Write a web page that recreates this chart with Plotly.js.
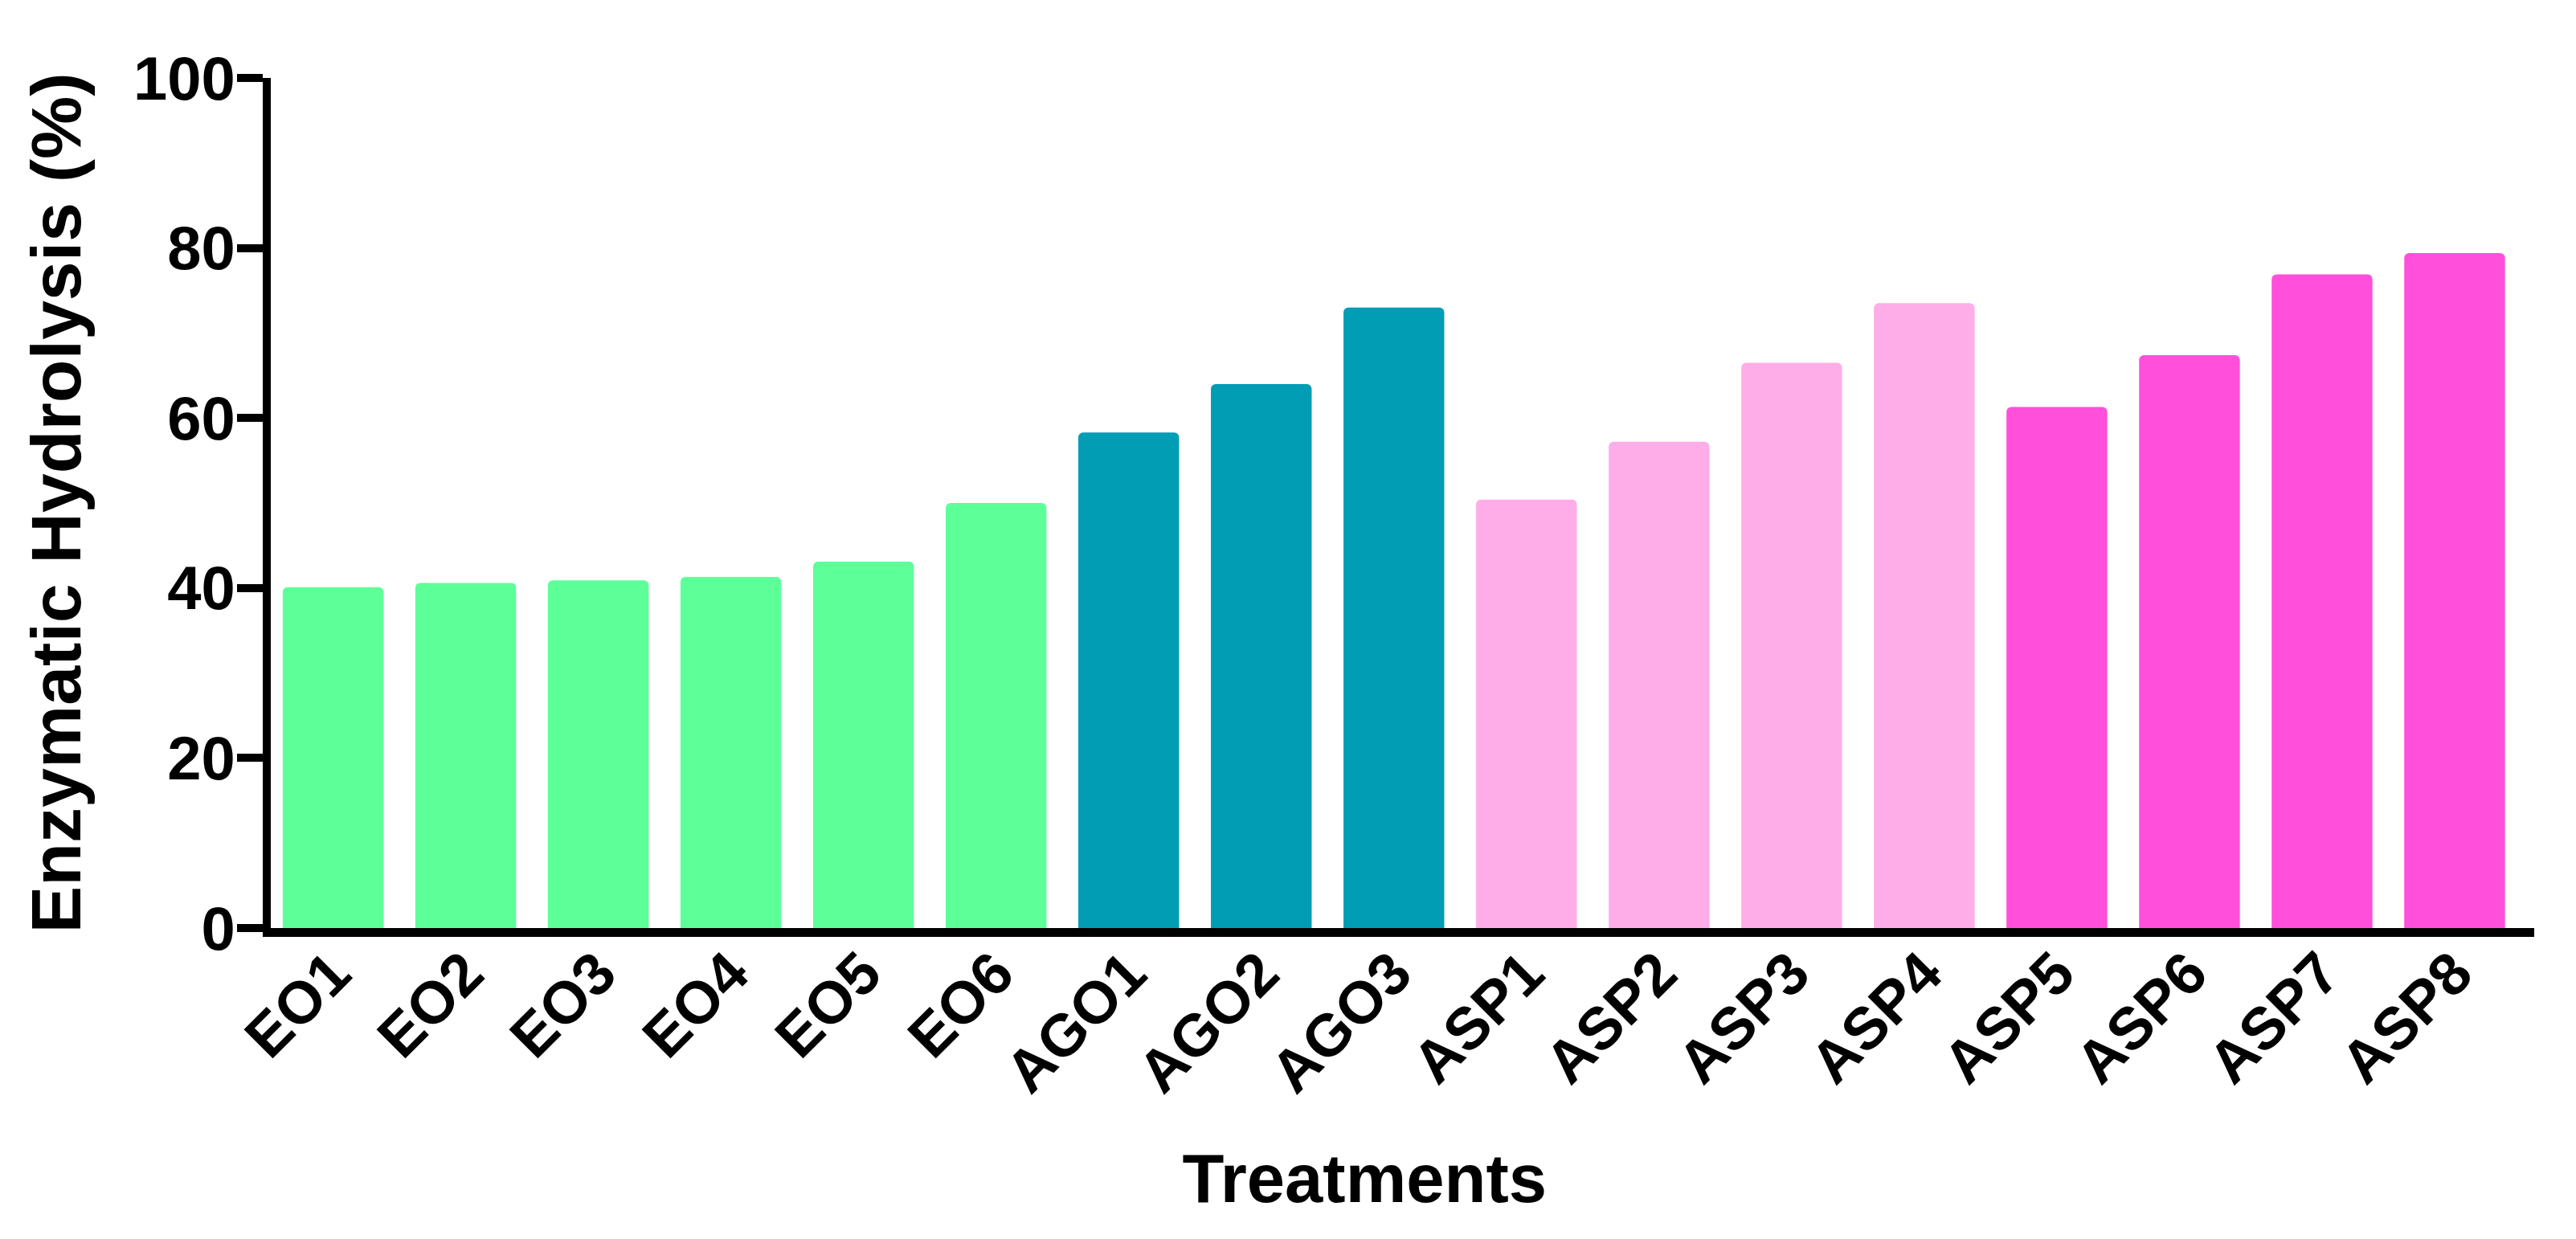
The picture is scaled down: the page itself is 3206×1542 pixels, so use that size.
<!DOCTYPE html>
<html>
<head>
<meta charset="utf-8">
<script src="https://cdn.plot.ly/plotly-3.0.1.min.js"></script>
<style>
  html, body { margin: 0; padding: 0; background: #ffffff; }
  #chart { width: 3206px; height: 1542px; }
</style>
</head>
<body>
<div id="chart"></div>
<script>
// ---- Data ----
const categories = ["EO1", "EO2", "EO3", "EO4", "EO5", "EO6",
                    "AGO1", "AGO2", "AGO3",
                    "ASP1", "ASP2", "ASP3", "ASP4",
                    "ASP5", "ASP6", "ASP7", "ASP8"];
const hydrolysis = [40.1, 40.6, 40.9, 41.3, 43.1, 50.0,
                    58.3, 64.0, 73.0,
                    50.4, 57.2, 66.5, 73.5,
                    61.3, 67.4, 76.9, 79.4];
const groups = ["EO", "EO", "EO", "EO", "EO", "EO",
                "AGO", "AGO", "AGO",
                "ASP-a", "ASP-a", "ASP-a", "ASP-a",
                "ASP-b", "ASP-b", "ASP-b", "ASP-b"];
const yTickValues = [0, 20, 40, 60, 80, 100];

// ---- Styling ----
const groupColors = {
  "EO": "#5DFF99",
  "AGO": "#009DB5",
  "ASP-a": "#FFADE9",
  "ASP-b": "#FF4FDB"
};
const barColors = groups.map(g => groupColors[g]);
const FONT = "Liberation Sans, Arial, Helvetica, sans-serif";

const trace = {
  type: "bar",
  x: categories,
  y: hydrolysis,
  width: 0.76,
  marker: { color: barColors, line: { width: 0 }, cornerradius: 6 },
  hoverinfo: "x+y"
};

const layout = {
  width: 3206,
  height: 1542,
  paper_bgcolor: "#ffffff",
  plot_bgcolor: "#ffffff",
  showlegend: false,
  margin: { l: 337, r: 52, t: 97, b: 387, pad: 0 },
  font: { family: FONT, color: "#000000" },
  xaxis: {
    type: "category",
    range: [-0.47, 16.6],
    showline: true,
    linecolor: "#000000",
    linewidth: 11,
    ticks: "",
    showgrid: false,
    zeroline: false,
    tickangle: -45,
    ticklabelstandoff: -28,
    tickfont: { family: FONT, size: 74, color: "#000000", weight: "bold" },
    title: {
      text: "<b>Treatments</b>&nbsp;&nbsp;&nbsp;&nbsp;",
      font: { family: FONT, size: 85, color: "#000000" },
      standoff: 66
    },
    fixedrange: true
  },
  yaxis: {
    range: [0, 100],
    tickvals: yTickValues,
    ticktext: yTickValues.map(String),
    showline: true,
    linecolor: "#000000",
    linewidth: 10,
    ticks: "outside",
    ticklen: 32,
    tickwidth: 10,
    tickcolor: "#000000",
    showgrid: false,
    zeroline: false,
    ticklabelstandoff: -13,
    tickfont: { family: FONT, size: 76, color: "#000000", weight: "bold" },
    title: {
      text: "<b>Enzymatic Hydrolysis (%)</b>",
      font: { family: FONT, size: 88, color: "#000000" },
      standoff: 40
    },
    fixedrange: true
  },
  bargap: 0.24
};

Plotly.newPlot("chart", [trace], layout, { displayModeBar: false, staticPlot: true });
</script>
</body>
</html>
